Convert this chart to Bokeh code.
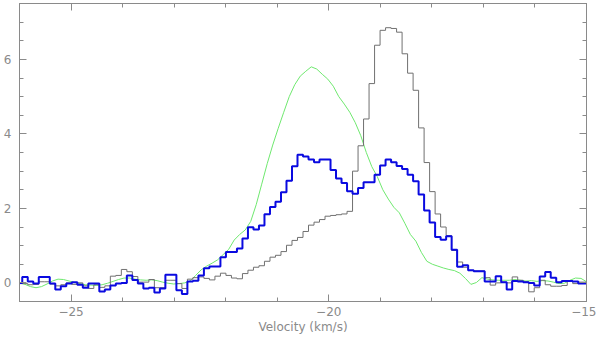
import numpy as np
from bokeh.plotting import figure
from bokeh.models import LinearAxis, SingleIntervalTicker, Range1d, ColumnDataSource
from bokeh.embed import file_html
from bokeh.resources import INLINE

# Channel velocities (km/s): 104 channels from -26 to -15
velocity = np.linspace(-26.0, -15.0, 104)

# Thick blue spectrum
blue_spec = [
    0.0, 0.16, 0.04, -0.02, 0.16, 0.16, -0.02, -0.18, -0.09, -0.02,
    0.02, -0.05, -0.13, -0.02, -0.02, -0.23, -0.18, -0.07, -0.02, 0.0,
    0.2, 0.08, -0.02, -0.15, -0.13, -0.26, -0.15, 0.22, 0.22, -0.2,
    -0.3, 0.04, 0.06, 0.2, 0.39, 0.44, 0.44, 0.69, 0.83, 0.83,
    0.92, 1.19, 1.49, 1.43, 1.54, 1.84, 2.04, 2.18, 2.43, 2.74,
    3.13, 3.44, 3.39, 3.31, 3.24, 3.31, 3.31, 3.03, 2.8, 2.68,
    2.46, 2.39, 2.55, 2.7, 2.7, 2.9, 3.15, 3.31, 3.24, 3.14,
    3.06, 2.9, 2.73, 2.37, 1.94, 1.62, 1.23, 1.16, 1.25, 0.89,
    0.43, 0.47, 0.34, 0.31, 0.31, 0.04, 0.04, 0.18, 0.02, -0.18,
    0.05, 0.04, 0.02, 0.0, -0.07, 0.17, 0.29, 0.14, 0.02, 0.05,
    0.05, 0.04, -0.02, -0.02,
]

# Thin grey spectrum
gray_spec = [
    -0.02, -0.02, -0.05, -0.04, 0.03, 0.03, -0.03, -0.08, -0.05, 0.0,
    -0.04, 0.0, -0.08, -0.15, -0.05, -0.12, -0.08, 0.18, 0.2, 0.36,
    0.3, 0.17, 0.02, 0.02, 0.09, -0.13, -0.13, 0.07, 0.07, -0.02,
    -0.15, 0.1, 0.14, 0.16, 0.12, 0.08, 0.18, 0.26, 0.2, 0.13,
    0.11, 0.25, 0.34, 0.42, 0.46, 0.58, 0.69, 0.74, 0.84, 1.01,
    1.14, 1.22, 1.38, 1.55, 1.63, 1.7, 1.79, 1.81, 1.83, 1.85,
    1.92, 3.0, 3.68, 4.4, 5.35, 6.38, 6.78, 6.85, 6.83, 6.73,
    6.15, 5.63, 5.17, 4.16, 3.23, 2.45, 1.85, 1.5, 1.27, 0.87,
    0.56, 0.42, 0.33, 0.32, 0.32, 0.14, -0.06, 0.0, 0.02, 0.0,
    0.16, 0.07, 0.03, -0.24, -0.13, 0.07, -0.05, -0.09, -0.09, -0.07,
    0.04, -0.02, 0.02, 0.02,
]

# Smooth green curve
green_curve = [
    0.0, -0.04, -0.1, -0.13, -0.1, -0.03, 0.05, 0.1, 0.09, 0.05,
    0.01, -0.02, -0.05, -0.06, -0.07, -0.05, -0.01, 0.04, 0.09, 0.13,
    0.13, 0.1, 0.08, 0.07, 0.08, 0.06, 0.02, -0.01, -0.03, -0.02,
    0.0, 0.05, 0.2, 0.35, 0.45, 0.53, 0.62, 0.76, 0.9, 1.15,
    1.3, 1.42, 1.65, 2.1, 2.65, 3.2, 3.7, 4.15, 4.58, 5.0,
    5.32, 5.55, 5.68, 5.8, 5.74, 5.6, 5.47, 5.28, 5.0, 4.8,
    4.58, 4.3, 3.95, 3.5, 3.12, 2.85, 2.5, 2.25, 2.03, 1.88,
    1.6, 1.3, 1.12, 0.82, 0.58, 0.5, 0.45, 0.4, 0.36, 0.33,
    0.26, 0.12, -0.04, 0.01, 0.14, 0.1, 0.08, 0.07, 0.07, 0.07,
    0.09, 0.07, 0.05, 0.06, 0.04, 0.06, 0.05, 0.02, -0.02, -0.01,
    0.07, 0.13, 0.12, 0.03,
]

x_tick_labels = {-25: "\u221225", -20: "\u221220", -15: "\u221215"}
x_axis_title = "Velocity (km/s)"

AX = "#8a8a8a"
FONT = "DejaVu Sans"

src = ColumnDataSource(dict(v=velocity, blue=blue_spec, gray=gray_spec, green=green_curve))

p = figure(width=596, height=336, output_backend="svg", toolbar_location=None,
           x_range=Range1d(-26, -15), y_range=Range1d(-0.5, 7.5),
           x_axis_location=None, y_axis_location=None,
           min_border_left=19, min_border_right=10, min_border_top=3, min_border_bottom=35)
p.grid.visible = False
p.outline_line_color = AX
p.background_fill_color = "white"
p.border_fill_color = "white"


def make_axis(interval, minor, labels):
    ax = LinearAxis(ticker=SingleIntervalTicker(interval=interval, num_minor_ticks=minor))
    ax.axis_line_color = AX
    ax.major_tick_line_color = AX
    ax.minor_tick_line_color = AX
    ax.major_tick_in = 7
    ax.major_tick_out = 0
    ax.minor_tick_in = 4
    ax.minor_tick_out = 0
    ax.major_label_text_color = AX
    ax.major_label_text_font = FONT
    ax.major_label_text_font_size = "12px"
    ax.axis_label_text_color = AX
    ax.axis_label_text_font = FONT
    ax.axis_label_text_font_style = "normal"
    ax.axis_label_text_font_size = "12px"
    if not labels:
        ax.major_label_text_color = None
        ax.major_label_text_font_size = "1px"
        ax.major_label_standoff = 0
    return ax


xb = make_axis(5, 5, True)
xb.major_label_overrides = x_tick_labels
xb.major_label_standoff = 5
xb.axis_label = x_axis_title
xb.axis_label_standoff = 1
p.add_layout(xb, "below")

xt = make_axis(5, 5, False)
p.add_layout(xt, "above")

yl = make_axis(2, 4, True)
yl.major_label_standoff = 8
p.add_layout(yl, "left")

yr = make_axis(2, 4, False)
p.add_layout(yr, "right")

p.line(x="v", y="green", source=src, line_color="#6fe86f", line_width=1)
p.step(x="v", y="gray", source=src, mode="center", line_color="#707070", line_width=1)
p.step(x="v", y="blue", source=src, mode="center", line_color="#0a0ae0", line_width=2)

open("out.html", "w").write(file_html(p, INLINE))
